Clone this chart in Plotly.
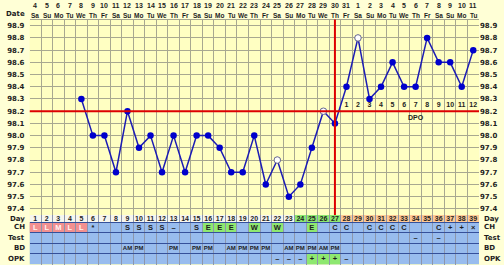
import plotly.graph_objects as go

W, H = 504, 265

# ---------------- data ----------------
dates = [4, 5, 6, 7, 8, 9, 10, 11, 12, 13, 14, 15, 16, 17, 18, 19, 20, 21, 22, 23,
         24, 25, 26, 27, 28, 29, 30, 31, 1, 2, 3, 4, 5, 6, 7, 8, 9, 10, 11]
weekdays = ["Sa", "Su", "Mo", "Tu", "We", "Th", "Fr"] * 5 + ["Sa", "Su", "Mo", "Tu"]
days = list(range(1, 40))
temps = [None, None, None, None,
         98.3, 98.0, 98.0, 97.7, 98.2, 97.9, 98.0, 97.7, 98.0, 97.7,
         98.0, 98.0, 97.9, 97.7, 97.7, 98.0, 97.6, 97.8, 97.5, 97.6,
         97.9, 98.2, 98.1, 98.4, 98.8, 98.3, 98.4, 98.6, 98.4, 98.4,
         98.8, 98.6, 98.6, 98.4, 98.7]
open_days = [22, 26, 29]
coverline = 98.2
ovulation_day = 27
fertile_days = [24, 25, 26, 27]
dpo_days = list(range(28, 40))
dpo_labels = [str(i) for i in range(1, 13)]
temp_ticks = [97.4, 97.5, 97.6, 97.7, 97.8, 97.9, 98.0, 98.1, 98.2, 98.3, 98.4, 98.5, 98.6, 98.7, 98.8, 98.9]

ch = {1: "L", 2: "L", 3: "M", 4: "L", 5: "L", 6: "*", 9: "S", 10: "S", 11: "S", 12: "S",
      13: "\u2013", 15: "S", 16: "E", 17: "E", 18: "E", 20: "W", 22: "W", 25: "E",
      27: "C", 28: "C", 30: "C", 31: "C", 32: "C", 33: "C", 36: "C", 37: "+", 38: "+", 39: "\u00d7"}
test = {34: "\u2013", 36: "\u2013"}
bd = {9: "AM", 10: "PM", 13: "PM", 15: "PM", 16: "PM", 18: "AM", 19: "PM", 20: "PM", 21: "PM",
      23: "AM", 24: "PM", 25: "PM", 26: "AM", 27: "PM"}
opk = {22: "\u2013", 23: "\u2013", 24: "\u2013", 25: "+", 26: "+", 27: "+", 28: "\u2013"}

# ---------------- style ----------------
FONT = "DejaVu Sans"
NARROW = "Liberation Sans, Arial"
TXT = "#1e1e1e"
PAPER = "#FFFFD6"
PLOTBG = "#FFFFC2"
GRID = "#A8A890"
BLUE = "#98BCEE"
GREEN = "#8EE870"
ORANGE = "#FFC994"
PINK = "#F29090"
DAYBG = "#F6F6EE"
RED = "#DD0000"

plot_top, plot_bot = 19.6, 215.0
x_left, x_right = 29.5, 479.0
rows = [("Day", 215.0, 222.0), ("CH", 222.0, 232.7), ("Test", 232.7, 243.2),
        ("BD", 243.2, 253.7), ("OPK", 253.7, 264.3)]


def py(p):
    return 1 - p / H


tf = dict(family=FONT, size=7, color=TXT, weight="bold")
nf = dict(family=NARROW, size=7, color=TXT, weight="bold")
hf = dict(family=NARROW, size=6.5, color=TXT, weight="bold")

fig = go.Figure()

# temperature line
fig.add_trace(go.Scatter(x=days, y=temps, mode="lines+markers",
                         line=dict(color="#1c1cb4", width=1.5),
                         marker=dict(color="#0000CC", size=6.5),
                         hoverinfo="skip", showlegend=False))
fig.add_trace(go.Scatter(x=open_days, y=[temps[d - 1] for d in open_days], mode="markers",
                         marker=dict(color="white", size=6.5, line=dict(color="#707090", width=1)),
                         hoverinfo="skip", showlegend=False))
# DPO numbers
fig.add_trace(go.Scatter(x=dpo_days, y=[coverline + 0.05] * len(dpo_days), mode="text",
                         text=dpo_labels, textfont=nf,
                         hoverinfo="skip", showlegend=False))
# dummy for right axis
fig.add_trace(go.Scatter(x=[None], y=[None], yaxis="y3", showlegend=False, hoverinfo="skip"))

fig.add_annotation(x=34, y=coverline - 0.05, xref="x", yref="y", text="DPO", showarrow=False,
                   font=nf)

# coverline and ovulation line
fig.add_shape(type="line", xref="x", yref="y", x0=0.5, x1=39.5, y0=coverline, y1=coverline,
              line=dict(color=RED, width=2), layer="above")
fig.add_shape(type="line", xref="x", yref="y domain", x0=ovulation_day, x1=ovulation_day, y0=0, y1=1,
              line=dict(color=RED, width=2), layer="above")

# ---------------- table ----------------
for d in days:
    if d in fertile_days:
        c = GREEN
    elif d in dpo_days:
        c = ORANGE
    else:
        c = DAYBG
    fig.add_shape(type="rect", xref="x2", yref="y2", x0=d - 0.5, x1=d + 0.5,
                  y0=rows[0][1], y1=rows[0][2], fillcolor=c, line_width=0, layer="below")
for name, y0, y1 in rows[1:]:
    fig.add_shape(type="rect", xref="x2", yref="y2", x0=0.5, x1=39.5, y0=y0, y1=y1,
                  fillcolor=BLUE, line_width=0, layer="below")

for d, v in ch.items():
    c = None
    if v in ("L", "M", "H"):
        c = PINK
    elif v in ("E", "W"):
        c = GREEN
    if c:
        fig.add_shape(type="rect", xref="x2", yref="y2", x0=d - 0.5, x1=d + 0.5,
                      y0=rows[1][1], y1=rows[1][2], fillcolor=c, line_width=0, layer="below")
for d, v in opk.items():
    if v == "+":
        fig.add_shape(type="rect", xref="x2", yref="y2", x0=d - 0.5, x1=d + 0.5,
                      y0=rows[4][1], y1=rows[4][2], fillcolor=GREEN, line_width=0, layer="below")

fig.add_trace(go.Scatter(x=days, y=[(rows[0][1] + rows[0][2]) / 2 + 0.3] * 39, mode="text",
                         text=[str(d) for d in days], textfont=nf, xaxis="x2", yaxis="y2",
                         cliponaxis=False, hoverinfo="skip", showlegend=False))
for (name, y0, y1), data in zip(rows[1:], [ch, test, bd, opk]):
    xs = list(data.keys())
    ts = list(data.values())
    cols = ["#FFF4F4" if t in ("L", "M", "H") else TXT for t in ts]
    size = 6 if data is bd else 7.5
    fig.add_trace(go.Scatter(x=xs, y=[(y0 + y1) / 2 + 0.5] * len(xs), mode="text", text=ts,
                             textfont=dict(family=NARROW, size=size, color=cols, weight="bold"),
                             xaxis="x2", yaxis="y2", cliponaxis=False,
                             hoverinfo="skip", showlegend=False))

# row labels
for name, y0, y1 in rows:
    yc = py((y0 + y1) / 2)
    fig.add_annotation(x=27 / W, y=yc, xref="paper", yref="paper", text=name, showarrow=False,
                       xanchor="right", yanchor="middle", font=tf)
    fig.add_annotation(x=481.5 / W, y=yc, xref="paper", yref="paper", text=name, showarrow=False,
                       xanchor="left", yanchor="middle", font=tf)

# header: dates and weekdays
for d, dt, wd in zip(days, dates, weekdays):
    fig.add_annotation(x=d, y=py(6), xref="x", yref="paper", text=str(dt), showarrow=False,
                       yanchor="middle", font=nf)
    fig.add_annotation(x=d, y=py(16), xref="x", yref="paper", text=wd, showarrow=False,
                       yanchor="middle", font=hf)
fig.add_annotation(x=27 / W, y=py(14), xref="paper", yref="paper", text="Date", showarrow=False,
                   xanchor="right", yanchor="middle", font=tf)

half = [i + 0.5 for i in range(40)]
ydom = [py(plot_bot), py(plot_top)]
xdom = [x_left / W, x_right / W]
ticktext = ["%.1f" % t for t in temp_ticks]

fig.update_layout(
    width=W, height=H, margin=dict(l=0, r=0, t=0, b=0),
    paper_bgcolor=PAPER, plot_bgcolor=PLOTBG, showlegend=False,
    xaxis=dict(domain=xdom, range=[0.5, 39.5], tickvals=half, showticklabels=False,
               showgrid=True, gridcolor=GRID, gridwidth=1, zeroline=False,
               showline=True, linecolor=GRID, mirror=True, ticks="", anchor="y"),
    yaxis=dict(domain=ydom, range=[97.35, 98.95], tickvals=temp_ticks, ticktext=ticktext,
               showgrid=True, gridcolor=GRID, gridwidth=1, zeroline=False, ticks="",
               tickfont=tf, ticklabelstandoff=4, anchor="x", showline=False),
    yaxis3=dict(overlaying="y", side="right", range=[97.35, 98.95], tickvals=temp_ticks,
                ticktext=ticktext, showgrid=False, zeroline=False, ticks="", tickfont=tf,
                anchor="x", showline=False),
    xaxis2=dict(domain=xdom, range=[0.5, 39.5], tickvals=half, showticklabels=False,
                showgrid=True, gridcolor="#8C96AC", gridwidth=1, zeroline=False, ticks="",
                anchor="y2"),
    yaxis2=dict(domain=[0, py(plot_bot)], range=[H, plot_bot],
                tickvals=[r[2] for r in rows], showticklabels=False, showgrid=True,
                gridcolor="#35509A", gridwidth=1, zeroline=False, ticks="", anchor="x2"),
)

fig.write_html("out.html")
